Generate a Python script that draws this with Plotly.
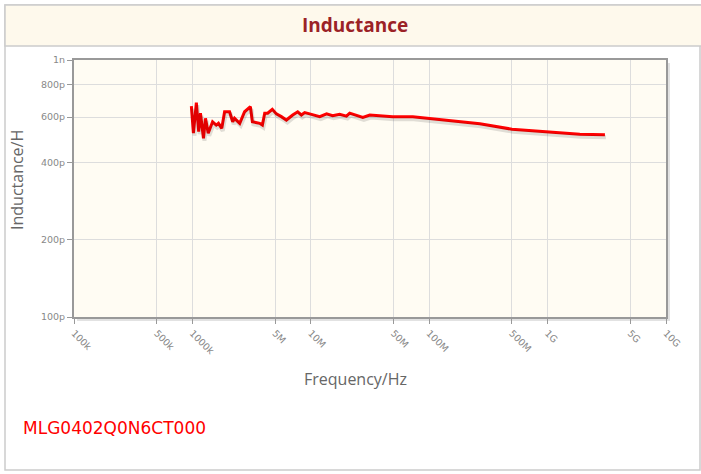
import plotly.graph_objects as go

# Data
freq_hz = [0.98e6, 1.02e6, 1.08e6, 1.13e6, 1.17e6, 1.24e6, 1.29e6, 1.36e6, 1.48e6, 1.59e6,
           1.66e6, 1.77e6, 1.87e6, 2.06e6, 2.19e6, 2.27e6, 2.51e6, 2.76e6, 3.09e6, 3.21e6,
           3.70e6, 3.90e6, 4.08e6, 4.32e6, 4.73e6, 5.12e6, 5.64e6, 6.22e6, 7.03e6, 7.75e6,
           8.33e6, 8.88e6, 9.79e6, 1.19e7, 1.36e7, 1.53e7, 1.75e7, 2.0e7, 2.13e7, 2.43e7,
           2.75e7, 3.15e7, 3.82e7, 4.92e7, 7.27e7, 1.15e8, 1.49e8, 2.68e8, 5.0e8, 1.0e9,
           1.87e9, 3.05e9]
ind_ph = [662, 519, 682, 526, 621, 496, 593, 519, 575, 558,
          567, 542, 629, 629, 575, 593, 567, 629, 658, 575,
          567, 558, 621, 621, 643, 617, 602, 584, 611, 629,
          611, 624, 617, 602, 617, 607, 615, 605, 621, 611,
          598, 611, 607, 602, 602, 589, 584, 565, 538, 525,
          514, 512]

x_tickvals = [1e5, 5e5, 1e6, 5e6, 1e7, 5e7, 1e8, 5e8, 1e9, 5e9, 1e10]
x_ticktext = ["100k", "500k", "1000k", "5M", "10M", "50M", "100M", "500M", "1G", "5G", "10G"]
y_tickvals = [1e-10, 2e-10, 4e-10, 6e-10, 8e-10, 1e-9]
y_ticktext = ["100p", "200p", "400p", "600p", "800p", "1n"]

title_text = "Inductance"
x_title = "Frequency/Hz"
y_title = "Inductance/H"
part_name = "MLG0402Q0N6CT000"

W, H = 701, 474
L, R, T, B = 74, 35, 60, 157
PW, PH = W - L - R, H - T - B


def px(x):
    return (x - L) / PW


def py(y):
    return (H - B - y) / PH


ind_h = [v * 1e-12 for v in ind_ph]

fig = go.Figure()
# soft drop shadow of the curve, drawn on overlay axes offset by a couple of pixels
fig.add_trace(go.Scatter(
    x=freq_hz, y=ind_h, mode="lines", xaxis="x2", yaxis="y2",
    line=dict(color="rgba(0,0,0,0.12)", width=4), hoverinfo="skip", showlegend=False))
fig.add_trace(go.Scatter(
    x=freq_hz, y=ind_h, mode="lines",
    line=dict(color="#ff0000", width=3), hoverinfo="skip", showlegend=False))

tickfont = dict(family="DejaVu Sans", size=9.5, color="#888888")
fig.update_layout(
    xaxis=dict(type="log", range=[5, 10], tickvals=x_tickvals, ticktext=x_ticktext,
               tickangle=45, tickfont=tickfont, showgrid=True, gridcolor="#dddddd",
               gridwidth=1, showline=True, linecolor="#999999", linewidth=2, mirror=True,
               ticks="outside", ticklen=5, tickcolor="#999999", zeroline=False),
    yaxis=dict(type="log", range=[-10, -9], tickvals=y_tickvals, ticktext=y_ticktext,
               tickfont=tickfont, showgrid=True, gridcolor="#dddddd", gridwidth=1,
               showline=True, linecolor="#999999", linewidth=2, mirror=True,
               ticks="outside", ticklen=5, tickcolor="#999999", zeroline=False),
    xaxis2=dict(type="log", overlaying="x", range=[5 - 1.0 * 5 / PW, 10 - 1.0 * 5 / PW],
                visible=False, showgrid=False),
    yaxis2=dict(type="log", overlaying="y", range=[-10 + 2.5 / PH, -9 + 2.5 / PH],
                visible=False, showgrid=False),
)

shapes = [
    # outer border
    dict(type="rect", xref="paper", yref="paper", x0=px(5), x1=px(700), y0=py(470), y1=py(5),
         line=dict(color="#cccccc", width=1.5), fillcolor="rgba(0,0,0,0)", layer="below"),
    # title band
    dict(type="rect", xref="paper", yref="paper", x0=px(5), x1=px(702), y0=py(46), y1=py(5),
         line=dict(color="#cccccc", width=1.5), fillcolor="#fef9ec", layer="below"),
    # plot shadow (right and bottom strips)
    dict(type="rect", xref="paper", yref="paper", x0=px(667), x1=px(670), y0=py(321), y1=py(63),
         line=dict(width=0), fillcolor="#e2e2e2", layer="below"),
    dict(type="rect", xref="paper", yref="paper", x0=px(77), x1=px(670), y0=py(321), y1=py(318),
         line=dict(width=0), fillcolor="#e2e2e2", layer="below"),
]

annotations = [
    dict(text="<b>" + title_text + "</b>", xref="paper", yref="paper", x=px(355), y=py(25),
         xanchor="center", yanchor="middle", showarrow=False,
         font=dict(family="Open Sans", size=19, color="#9b2226")),
    dict(text=x_title, xref="paper", yref="paper", x=px(355), y=py(379),
         xanchor="center", yanchor="middle", showarrow=False,
         font=dict(family="Open Sans", size=16, color="#666666")),
    dict(text=y_title, xref="paper", yref="paper", x=px(17), y=py(180), textangle=-90,
         xanchor="center", yanchor="middle", showarrow=False,
         font=dict(family="Open Sans", size=16, color="#666666")),
    dict(text=part_name, xref="paper", yref="paper", x=px(21), y=py(428),
         xanchor="left", yanchor="middle", showarrow=False,
         font=dict(family="DejaVu Sans", size=17, color="#ff0000")),
]

fig.update_layout(width=W, height=H, margin=dict(l=L, r=R, t=T, b=B, autoexpand=False),
                  paper_bgcolor="#ffffff", plot_bgcolor="#fffcf3",
                  shapes=shapes, annotations=annotations, showlegend=False)

fig.write_html("out.html", config=dict(displayModeBar=False),
               post_script="document.body.style.margin='0';document.body.style.padding='0';")
